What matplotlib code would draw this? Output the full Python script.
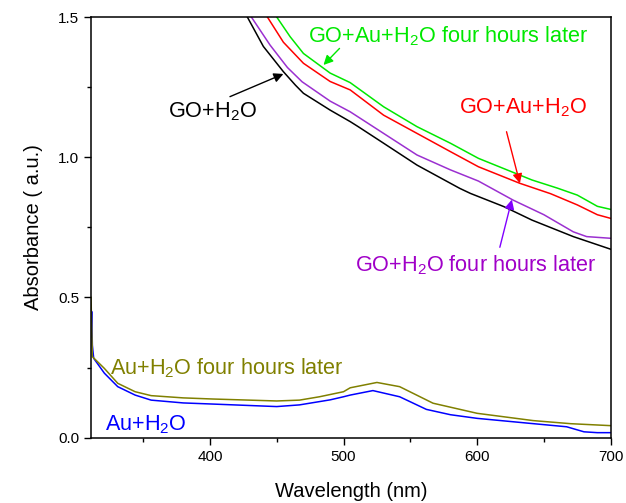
import matplotlib
matplotlib.use("Agg")
import matplotlib.pyplot as plt
from matplotlib.ticker import MultipleLocator

plt.rcParams['font.family'] = ['Liberation Sans', 'DejaVu Sans']
plt.rcParams['mathtext.fontset'] = 'custom'
plt.rcParams['mathtext.rm'] = 'Liberation Sans'
plt.rcParams['mathtext.default'] = 'regular'

# GO curves (wavelength nm, absorbance)
go_x = [420, 428, 440, 455, 464, 470, 490, 505, 511, 530, 555, 587, 595, 620, 641, 672, 700]
go_y = [1.56, 1.50, 1.395, 1.305, 1.257, 1.228, 1.168, 1.127, 1.109, 1.05, 0.972, 0.889, 0.871, 0.824, 0.776, 0.717, 0.672]

go4h_x = [422, 431, 445, 458, 469, 490, 505, 530, 555, 580, 601, 627, 650, 672, 682, 700]
go4h_y = [1.57, 1.50, 1.40, 1.32, 1.269, 1.20, 1.162, 1.085, 1.008, 0.955, 0.915, 0.847, 0.795, 0.734, 0.717, 0.711]

goau_x = [435, 443, 455, 470, 490, 505, 530, 555, 580, 601, 632, 655, 675, 690, 700]
goau_y = [1.56, 1.50, 1.41, 1.335, 1.27, 1.24, 1.15, 1.085, 1.02, 0.966, 0.907, 0.87, 0.83, 0.795, 0.782]

goau4h_x = [442, 450, 460, 470, 490, 505, 530, 555, 580, 601, 641, 660, 675, 690, 700]
goau4h_y = [1.56, 1.50, 1.43, 1.37, 1.30, 1.266, 1.18, 1.109, 1.05, 0.996, 0.919, 0.89, 0.865, 0.825, 0.814]

# Au curves
au_x = [311, 311.5, 312, 313, 321, 331, 344, 356, 380, 402, 450, 467, 490, 500, 505,
        522, 542, 562, 580, 600, 640, 667, 680, 690, 700]
au_y = [0.36, 0.45, 0.33, 0.283, 0.23, 0.182, 0.152, 0.134, 0.124, 0.12, 0.111, 0.117, 0.135, 0.146, 0.152,
        0.168, 0.146, 0.101, 0.082, 0.069, 0.051, 0.039, 0.021, 0.018, 0.018]

au4h_x = [311, 312, 321, 331, 344, 356, 380, 402, 450, 467, 482, 500, 505, 525, 542, 567, 600, 642, 670, 700]
au4h_y = [0.50, 0.289, 0.247, 0.194, 0.164, 0.15, 0.142, 0.138, 0.131, 0.134, 0.146, 0.164, 0.178, 0.197,
          0.182, 0.123, 0.087, 0.061, 0.05, 0.043]

fig = plt.figure(figsize=(6.26, 5.03), dpi=100)
ax = fig.add_axes([0.1454, 0.1298, 0.8302, 0.8364])

lw = 1.1
ax.plot(go_x, go_y, color='black', lw=lw)
ax.plot(go4h_x, go4h_y, color='#9b30d0', lw=lw)
ax.plot(goau_x, goau_y, color='#ff0000', lw=lw)
ax.plot(goau4h_x, goau4h_y, color='#00e800', lw=lw)
ax.plot(au_x, au_y, color='#0000ff', lw=lw)
ax.plot(au4h_x, au4h_y, color='#808000', lw=lw)

fs = 15.6
arrow = dict(arrowstyle='-|>', lw=1.0, mutation_scale=14, shrinkA=0, shrinkB=0)

ax.text(402, 1.161, r'GO+H$_2$O', color='black', fontsize=fs, ha='center', va='center')
ax.annotate('', xy=(455, 1.297), xytext=(415, 1.216), arrowprops=dict(arrow, color='black'))

ax.text(578, 1.43, r'GO+Au+H$_2$O four hours later', color='#00e800', fontsize=fs, ha='center', va='center')
ax.annotate('', xy=(485, 1.329), xytext=(497, 1.388), arrowprops=dict(arrow, color='#00e800'))

ax.text(634.5, 1.175, r'GO+Au+H$_2$O', color='#ff0000', fontsize=fs, ha='center', va='center')
ax.annotate('', xy=(632, 0.907), xytext=(622, 1.091), arrowprops=dict(arrow, color='#ff0000'))

ax.text(599, 0.616, r'GO+H$_2$O four hours later', color='#a000c8', fontsize=fs, ha='center', va='center')
ax.annotate('', xy=(626, 0.849), xytext=(617, 0.679), arrowprops=dict(arrow, color='#8000ff'))

ax.text(413, 0.247, r'Au+H$_2$O four hours later', color='#808000', fontsize=fs, ha='center', va='center')
ax.text(352, 0.045, r'Au+H$_2$O', color='#0000ff', fontsize=fs, ha='center', va='center')

ax.set_xlim(311, 700)
ax.set_ylim(0, 1.5)
ax.xaxis.set_major_locator(MultipleLocator(100))
ax.xaxis.set_minor_locator(MultipleLocator(50))
ax.yaxis.set_major_locator(MultipleLocator(0.5))
ax.yaxis.set_minor_locator(MultipleLocator(0.25))
ax.yaxis.set_major_formatter(plt.FormatStrFormatter('%.1f'))
ax.tick_params(which='both', direction='out', top=False, right=False, labelsize=11, width=1.0)
ax.tick_params(which='major', length=5)
ax.tick_params(which='minor', length=3)
for s in ax.spines.values():
    s.set_linewidth(1.1)

ax.set_xlabel('Wavelength (nm)', fontsize=14.5, labelpad=13)
ax.set_ylabel('Absorbance ( a.u.)', fontsize=14.5, labelpad=11)

fig.savefig('out.png', dpi=100)
